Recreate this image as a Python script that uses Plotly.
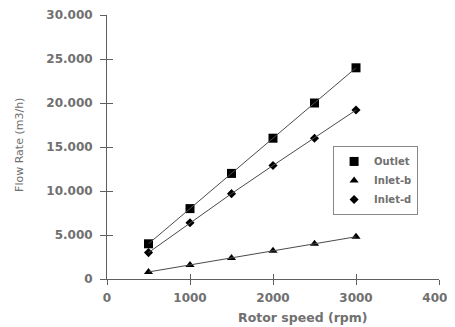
import plotly.graph_objects as go

rotor_speed = [500, 1000, 1500, 2000, 2500, 3000]
outlet = [4000, 8000, 12000, 16000, 20000, 24000]
inlet_b = [800, 1600, 2400, 3200, 4000, 4800]
inlet_d = [3000, 6400, 9700, 12900, 16000, 19200]

y_ticks = [0, 5000, 10000, 15000, 20000, 25000, 30000]
y_labels = ["0", "5.000", "10.000", "15.000", "20.000", "25.000", "30.000"]
x_ticks = [0, 1000, 2000, 3000, 4000]
x_labels = ["0", "1000", "2000", "3000", "4000"]

series = [
    ("Outlet", outlet, "square", 9),
    ("Inlet-b", inlet_b, "triangle-up", 8),
    ("Inlet-d", inlet_d, "diamond", 7),
]

gray = "#707070"
axis_col = "#5f5f5f"
line_col = "#4a4a4a"
FONT = "DejaVu Sans, Verdana, sans-serif"

fig = go.Figure()
for name, vals, sym, size in series:
    fig.add_trace(go.Scatter(x=rotor_speed, y=vals, mode="lines", showlegend=False,
                             line=dict(color=line_col, width=1), hoverinfo="skip",
                             xaxis="x2", yaxis="y2"))
for name, vals, sym, size in series:
    fig.add_trace(go.Scatter(x=rotor_speed, y=vals, name=name, mode="markers",
                             marker=dict(symbol=sym, size=size, color="black")))

tickfont = dict(size=12, color=gray, family=FONT, weight="bold")

fig.update_layout(
    width=447, height=319,
    margin=dict(l=99, r=16, t=7, b=48),
    paper_bgcolor="white", plot_bgcolor="white",
    font=dict(family=FONT, size=10, color=gray),
    showlegend=True,
    legend=dict(x=0.681, y=0.504, xanchor="left", yanchor="top",
                bordercolor="#888888", borderwidth=1, bgcolor="white",
                font=dict(size=10, color=gray, family=FONT, weight="bold"),
                itemwidth=30, tracegroupgap=0, entrywidth=68),
    annotations=[
        dict(text="Rotor speed (rpm)", x=0.59, y=-0.144,
             xref="paper", yref="paper", showarrow=False,
             xanchor="center", yanchor="middle",
             font=dict(size=12.5, color=gray, family=FONT, weight="bold")),
        dict(text="Flow Rate (m3/h)", x=-0.262, y=0.508, textangle=-90,
             xref="paper", yref="paper", showarrow=False,
             xanchor="center", yanchor="middle",
             font=dict(size=11, color=gray, family=FONT)),
    ],
    xaxis=dict(range=[0, 4000], tickvals=x_ticks, ticktext=x_labels,
               showgrid=False, zeroline=False, showline=True, linecolor=axis_col,
               linewidth=1, ticks="outside", ticklen=5, tickcolor=axis_col,
               tickfont=tickfont, ticklabelstandoff=3,
               automargin=False, ticklabeloverflow="allow"),
    yaxis=dict(range=[0, 30000], tickvals=y_ticks, ticktext=y_labels,
               showgrid=False, zeroline=False, showline=True, linecolor=axis_col,
               linewidth=1, ticks="outside", ticklen=6, tickcolor=axis_col,
               tickfont=tickfont, ticklabelstandoff=5,
               automargin=False, ticklabeloverflow="allow"),
    xaxis2=dict(range=[0, 4000], overlaying="x", side="bottom", tickvals=x_ticks,
                showticklabels=False, showgrid=False, zeroline=False, showline=False,
                ticks="inside", ticklen=5, tickcolor=axis_col, tickwidth=1,
                automargin=False),
    yaxis2=dict(range=[0, 30000], overlaying="y", side="left", tickvals=y_ticks,
                showticklabels=False, showgrid=False, zeroline=False, showline=False,
                ticks="inside", ticklen=6, tickcolor=axis_col, tickwidth=1,
                automargin=False),
)

fig.write_html("out.html")
